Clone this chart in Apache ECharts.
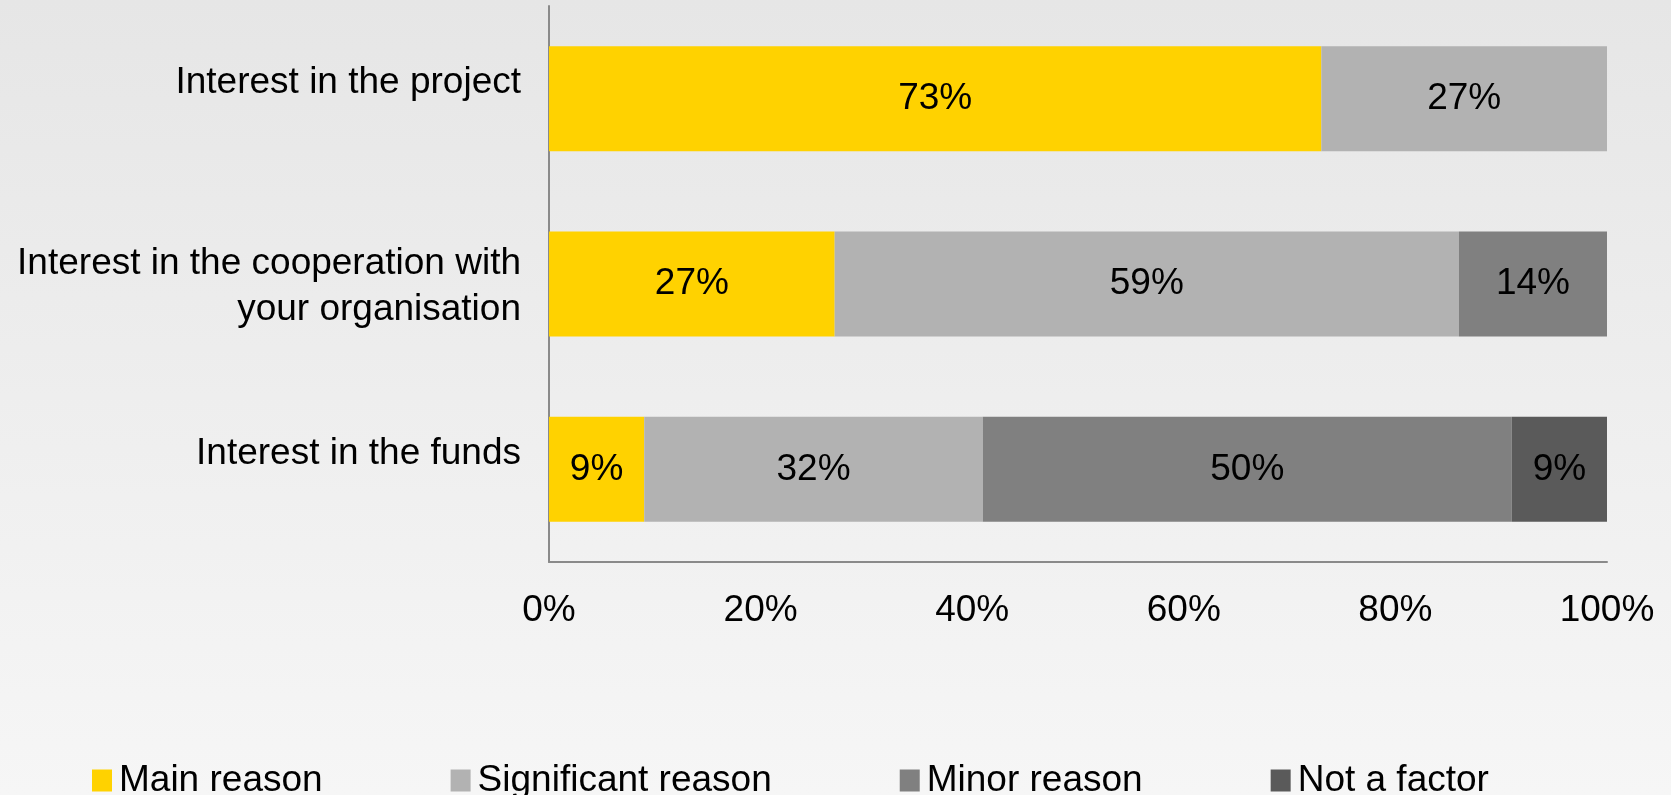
<!DOCTYPE html>
<html>
<head>
<meta charset="utf-8">
<title>Reasons for participation</title>
<script src="https://cdn.jsdelivr.net/npm/echarts@6/dist/echarts.min.js"></script>
<style>
  html, body { margin: 0; padding: 0; width: 100%; height: 100%; }
  #chart { width: 1671px; height: 795px; }
</style>
</head>
<body>
<div id="chart"></div>
<script>
// Survey categories (top to bottom) and the share of answers per reason
const categories = [
  'Interest in the project',
  'Interest in the cooperation with\nyour organisation',
  'Interest in the funds'
];
const seriesNames = ['Main reason', 'Significant reason', 'Minor reason', 'Not a factor'];
const mainReason = [73, 27, 9];
const significantReason = [27, 59, 32];
const minorReason = [0, 14, 50];
const notAFactor = [0, 0, 9];
const tickValues = [0, 20, 40, 60, 80, 100];

const colors = ['#FFD200', '#B2B2B2', '#808080', '#5A5A5A'];
const FONT = '"Liberation Sans", Arial, sans-serif';
const FS = 37;
const values = [mainReason, significantReason, minorReason, notAFactor];

const chart = echarts.init(document.getElementById('chart'), null, { renderer: 'canvas' });

const series = seriesNames.map((name, i) => ({
  name: name,
  type: 'bar',
  stack: 'total',
  barWidth: 105,
  data: values[i],
  itemStyle: { color: colors[i] },
  label: {
    show: true,
    position: 'inside',
    color: '#000',
    fontFamily: FONT,
    fontSize: FS,
    formatter: p => (p.value > 0 ? p.value + '%' : '')
  },
  emphasis: { disabled: true }
}));

chart.setOption({
  animation: false,
  backgroundColor: new echarts.graphic.LinearGradient(0, 0, 0, 1, [
    { offset: 0, color: '#E6E6E6' },
    { offset: 1, color: '#F6F6F6' }
  ]),
  grid: { left: 549, right: 64, top: 6, bottom: 233, containLabel: false },
  legend: {
    data: seriesNames,
    left: 87,
    top: 757,
    itemWidth: 20,
    itemHeight: 22,
    itemGap: 128,
    icon: 'rect',
    textStyle: { color: '#000', fontFamily: FONT, fontSize: FS, padding: [0, 0, 0, 2] }
  },
  xAxis: {
    type: 'value',
    min: tickValues[0],
    max: tickValues[tickValues.length - 1],
    interval: tickValues[1] - tickValues[0],
    axisLine: { show: true, lineStyle: { color: '#8A8A8A', width: 2 } },
    axisTick: { show: false },
    splitLine: { show: false },
    axisLabel: {
      color: '#000',
      fontFamily: FONT,
      fontSize: FS,
      margin: 30,
      formatter: v => v + '%'
    }
  },
  yAxis: {
    type: 'category',
    inverse: true,
    data: categories,
    axisLine: { show: true, lineStyle: { color: '#8A8A8A', width: 2 } },
    axisTick: { show: false },
    axisLabel: {
      color: '#000',
      fontFamily: FONT,
      fontSize: FS,
      lineHeight: 46,
      margin: 28,
      padding: [6, 0, 0, 0],
      formatter: v => (v.indexOf('\n') >= 0 ? v : '{up|' + v + '}'),
      rich: {
        up: { color: '#000', fontFamily: FONT, fontSize: FS, lineHeight: 46, padding: [0, 0, 38, 0] }
      }
    }
  },
  series: series
});
</script>
</body>
</html>
